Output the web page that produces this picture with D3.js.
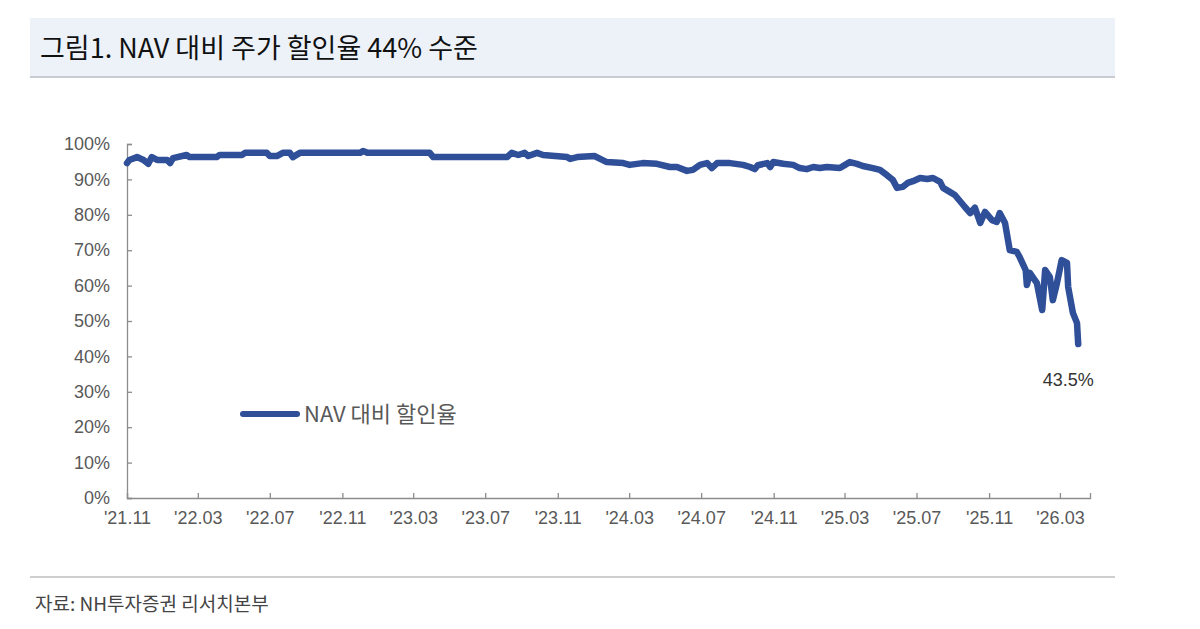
<!DOCTYPE html>
<html>
<head>
<meta charset="utf-8">
<script src="https://cdn.jsdelivr.net/npm/d3@7/dist/d3.min.js"></script>
<style>
  html, body { margin: 0; padding: 0; background: #fff; }
  svg { display: block; }
</style>
</head>
<body>
<svg id="chart" width="1200" height="629"></svg>
<script>
// ---- data ----
const titleText = "그림1. NAV 대비 주가 할인율 44% 수준";
const sourceText = "자료: NH투자증권 리서치본부";
const seriesName = "NAV 대비 할인율";
const endLabel = "43.5%";

const dates = [
  "2021-11-01","2021-11-05","2021-11-18","2021-11-29","2021-12-07","2021-12-13","2021-12-22",
  "2022-01-08","2022-01-13","2022-01-18","2022-02-10","2022-02-15","2022-04-02","2022-04-07",
  "2022-05-15","2022-05-20","2022-06-26","2022-07-01","2022-07-13","2022-07-23","2022-08-04",
  "2022-08-09","2022-08-21","2022-12-01","2022-12-06","2022-12-14","2023-03-29","2023-04-04",
  "2023-04-20","2023-08-07","2023-08-15","2023-08-26","2023-09-06","2023-09-12","2023-09-27",
  "2023-10-07","2023-11-17","2023-11-22","2023-12-04","2024-01-02","2024-01-12","2024-01-23",
  "2024-02-20","2024-03-02","2024-03-24","2024-04-17","2024-05-09","2024-05-21","2024-06-07",
  "2024-06-17","2024-06-29","2024-07-11","2024-07-19","2024-07-28","2024-08-19","2024-09-10",
  "2024-09-22","2024-09-30","2024-10-05","2024-10-21","2024-10-26","2024-10-31","2024-11-17",
  "2024-12-04","2024-12-15","2024-12-27","2025-01-07","2025-01-18","2025-01-30","2025-02-21",
  "2025-03-02","2025-03-10","2025-03-22","2025-04-01","2025-04-18","2025-04-30","2025-05-12",
  "2025-05-22","2025-05-29","2025-06-08","2025-06-16","2025-06-25","2025-07-07","2025-07-19",
  "2025-07-29","2025-08-10","2025-08-15","2025-08-27","2025-09-04","2025-09-21","2025-09-30",
  "2025-10-08","2025-10-17","2025-10-25","2025-11-06","2025-11-14","2025-11-19","2025-11-28",
  "2025-12-06","2025-12-18","2025-12-23","2026-01-02","2026-01-04","2026-01-09","2026-01-21",
  "2026-01-30","2026-02-04","2026-02-12","2026-02-17","2026-02-24","2026-03-04","2026-03-13",
  "2026-03-15","2026-03-23","2026-03-30","2026-04-01"
];
const discount = [
  94.6,95.5,96.3,95.5,94.4,96.3,95.5,
  95.5,94.6,96.0,96.9,96.3,96.3,96.9,
  96.9,97.5,97.5,96.6,96.6,97.5,97.5,
  96.3,97.5,97.5,98.0,97.5,97.5,96.3,
  96.3,96.3,97.5,96.9,97.5,96.6,97.5,
  96.9,96.3,95.8,96.3,96.6,95.8,94.9,
  94.6,94.1,94.6,94.4,93.5,93.5,92.4,
  92.7,94.1,94.6,93.2,94.6,94.6,94.1,
  93.5,92.9,94.0,94.6,93.5,94.9,94.4,
  94.1,93.2,92.9,93.5,93.2,93.5,93.2,
  94.1,94.9,94.4,93.8,93.2,92.7,91.2,
  89.8,87.6,87.9,89.0,89.5,90.4,90.1,
  90.4,89.3,87.6,86.4,85.6,82.2,80.5,
  82.0,77.7,80.8,78.5,78.0,80.5,77.7,
  70.0,69.5,68.0,64.4,60.2,63.6,60.7,
  53.1,64.4,62.4,55.9,60.7,67.2,66.4,
  59.6,52.3,49.4,43.5
];

const xTickDates = ["2021-11-01","2022-03-01","2022-07-01","2022-11-01","2023-03-01","2023-07-01",
  "2023-11-01","2024-03-01","2024-07-01","2024-11-01","2025-03-01","2025-07-01","2025-11-01","2026-03-01"];
const xTickLabels = ["'21.11","'22.03","'22.07","'22.11","'23.03","'23.07","'23.11",
  "'24.03","'24.07","'24.11","'25.03","'25.07","'25.11","'26.03"];
const yTicks = [0,10,20,30,40,50,60,70,80,90,100];
const xDomain = ["2021-11-01","2026-04-21"];

// ---- drawing ----
const parse = d3.timeParse("%Y-%m-%d");
const data = dates.map((d, i) => ({ date: parse(d), value: discount[i] }));

const svg = d3.select("#chart");
const plot = { left: 127, right: 1090, top: 144, bottom: 498 };

const labelFont = "'Liberation Sans', Arial, sans-serif";
const korFont = "'Noto Sans CJK KR', 'Noto Sans', sans-serif";
const lineColor = "#2f4f98";
const textGray = "#595959";

// title band
svg.append("rect").attr("x", 30).attr("y", 18).attr("width", 1085).attr("height", 59)
  .attr("fill", "#edf2f9");
svg.append("line").attr("x1", 30).attr("x2", 1115).attr("y1", 77).attr("y2", 77)
  .attr("stroke", "#c9cdd3").attr("stroke-width", 2);
svg.append("text").attr("x", 40).attr("y", 58).text(titleText)
  .attr("font-family", korFont).attr("font-size", 27).attr("font-weight", 400).attr("fill", "#111");

const x = d3.scaleTime().domain(xDomain.map(parse)).range([plot.left, plot.right]);
const y = d3.scaleLinear().domain([0, 100]).range([plot.bottom, plot.top]);

// y axis
const yAxis = d3.axisLeft(y).tickValues(yTicks).tickSize(-5).tickPadding(17)
  .tickFormat(d => d + "%");
const gy = svg.append("g").attr("transform", `translate(${plot.left},0)`).call(yAxis);
gy.select(".domain").attr("stroke", "#8c8c8c").attr("stroke-width", 1.3);
gy.selectAll(".tick line").attr("stroke", "#8c8c8c").attr("stroke-width", 1.3);
gy.selectAll(".tick text").attr("font-family", labelFont).attr("font-size", 18)
  .attr("fill", textGray);

// x axis
const xAxis = d3.axisBottom(x).tickValues(xTickDates.map(parse)).tickSize(-5).tickPadding(13)
  .tickFormat((d, i) => xTickLabels[i]);
const gx = svg.append("g").attr("transform", `translate(0,${plot.bottom})`).call(xAxis);
gx.select(".domain").attr("stroke", "#8c8c8c").attr("stroke-width", 1.3);
gx.selectAll(".tick line").attr("stroke", "#8c8c8c").attr("stroke-width", 1.3);
gx.selectAll(".tick text").attr("font-family", labelFont).attr("font-size", 18)
  .attr("fill", textGray);

// line
const line = d3.line().x(d => x(d.date)).y(d => y(d.value));
svg.append("path").datum(data).attr("d", line)
  .attr("fill", "none").attr("stroke", lineColor).attr("stroke-width", 6.5)
  .attr("stroke-linejoin", "round").attr("stroke-linecap", "round");

// end label
const last = data[data.length - 1];
svg.append("text").attr("x", x(last.date) - 10).attr("y", y(last.value) + 42)
  .attr("text-anchor", "middle").text(endLabel)
  .attr("font-family", labelFont).attr("font-size", 18).attr("fill", "#333");

// legend
svg.append("line").attr("x1", 243).attr("x2", 297).attr("y1", 414).attr("y2", 414)
  .attr("stroke", lineColor).attr("stroke-width", 6).attr("stroke-linecap", "round");
svg.append("text").attr("x", 304).attr("y", 422).text(seriesName)
  .attr("font-family", korFont).attr("font-size", 22).attr("fill", textGray);

// source
svg.append("line").attr("x1", 30).attr("x2", 1115).attr("y1", 577).attr("y2", 577)
  .attr("stroke", "#cfcfcf").attr("stroke-width", 2);
svg.append("text").attr("x", 35).attr("y", 611).text(sourceText)
  .attr("font-family", korFont).attr("font-size", 19).attr("fill", "#444");
</script>
</body>
</html>
